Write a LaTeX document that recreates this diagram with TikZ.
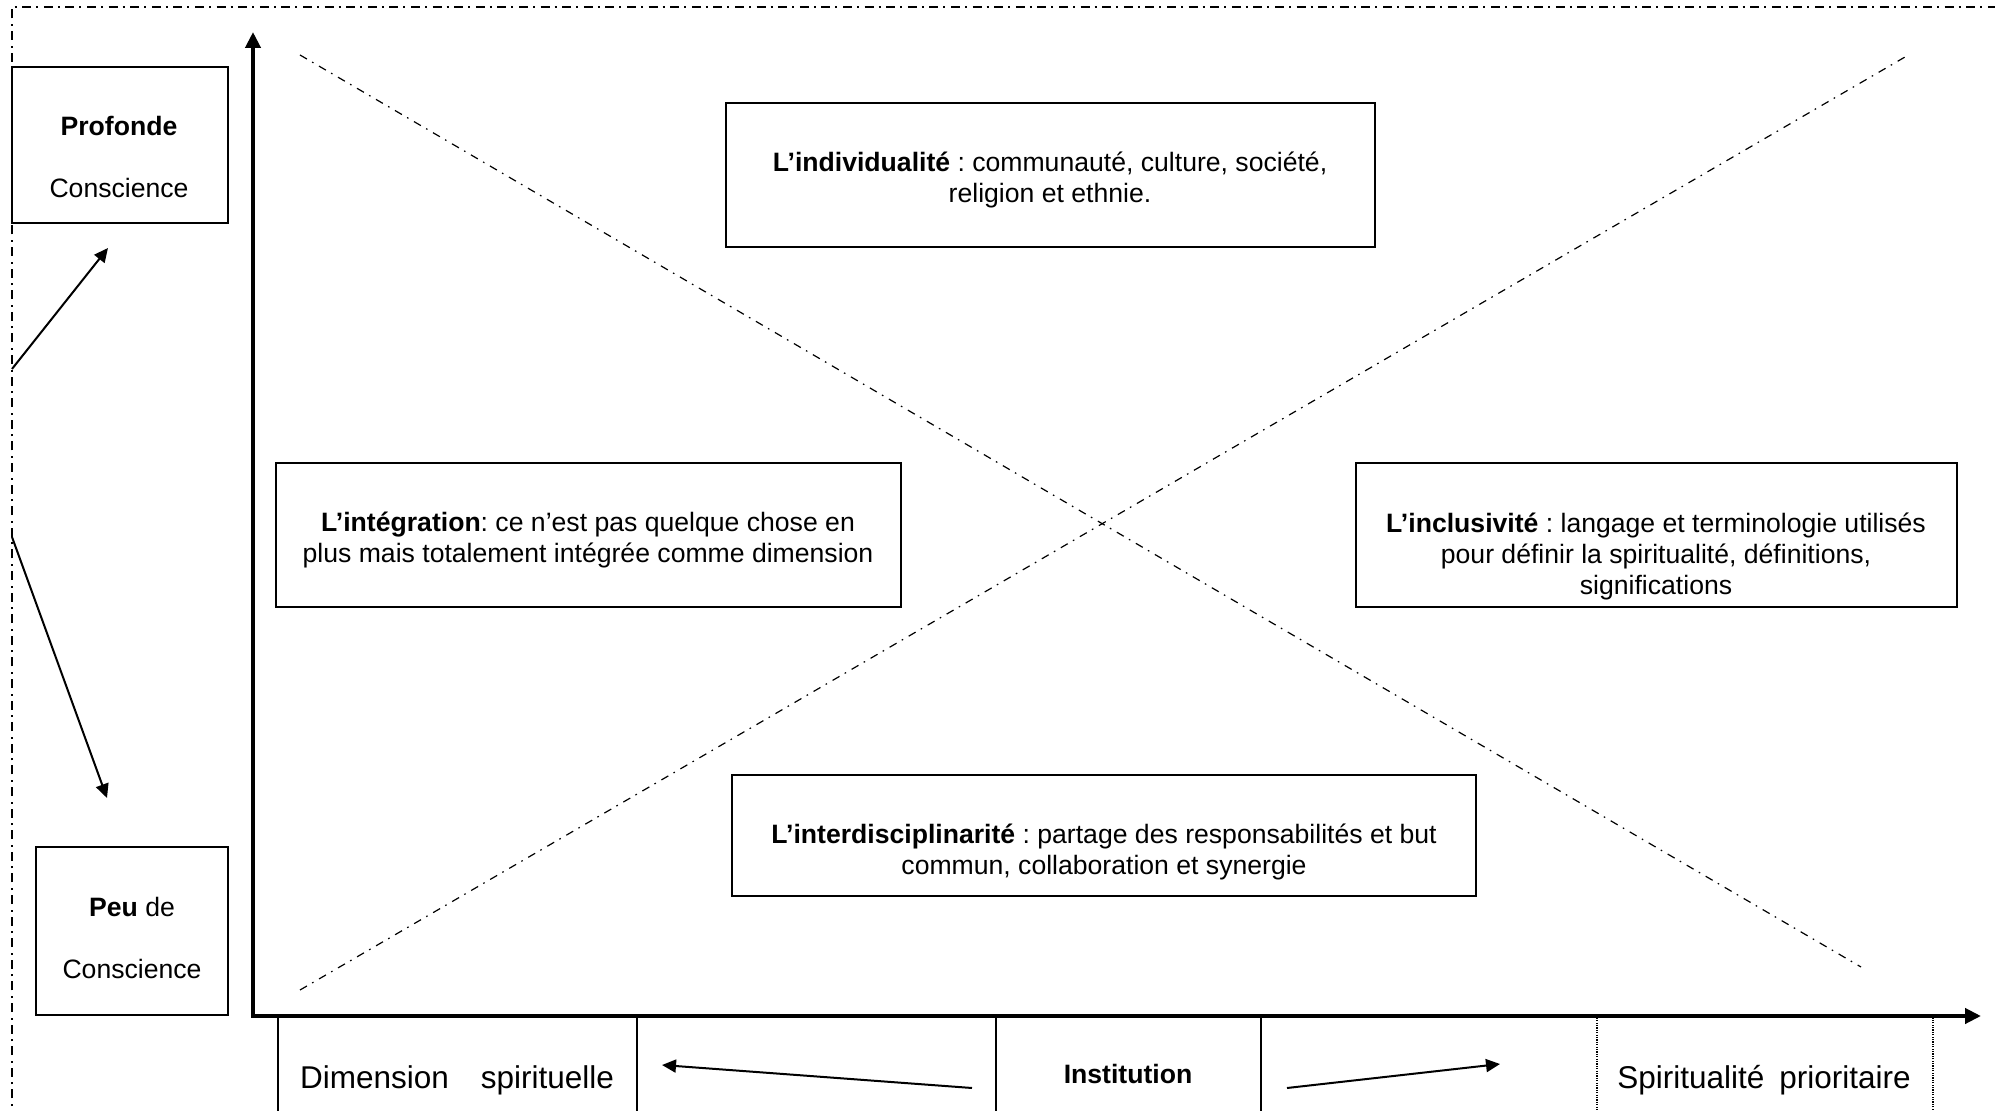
\documentclass[tikz,border=0pt]{standalone}
\usepackage{fontspec}
\setmainfont{Liberation Sans}
\usetikzlibrary{arrows.meta}
\frenchspacing
\begin{document}
\begin{tikzpicture}[x=0.5pt,y=-0.5pt,
  box/.style={draw,line width=1pt,inner sep=0pt,outer sep=0pt},
  cell/.style={draw,line width=0.8pt,inner sep=0pt,outer sep=0pt,minimum height=80pt},
  txt/.style={font=\fontsize{13.3}{15.5}\selectfont,align=center,inner sep=0pt},
  big/.style={font=\fontsize{15.75}{18}\selectfont,inner sep=0pt},
  framestyle/.style={line width=0.8pt,dash pattern=on 4.5pt off 2.5pt on 1pt off 2.8pt},
  diag/.style={line width=0.6pt,dash pattern=on 4pt off 3pt on 0.8pt off 3.2pt},
  axisstyle/.style={line width=2pt,line join=miter,{Triangle[length=8pt,width=7.5pt]}-{Triangle[length=8pt,width=7.5pt]}},
  arr/.style={line width=1pt,-{Triangle[length=7pt,width=6.5pt]}}]
\useasboundingbox (0,0) rectangle (1995,1111);
\clip (0,0) rectangle (1995,1111);

% outer frame
\coordinate (fbl) at (12,1120);
\coordinate (ftl) at (12,7);
\coordinate (ftr) at (2000,7);
\draw[framestyle] (fbl) -- (ftl) -- (ftr);

% left boxes
\node[box,minimum width=108pt,minimum height=78pt] (prof) at (120,145) {};
\node[txt] (proftxt) at (119,157) {\textbf{Profonde}\\[15.5pt]Conscience};
\node[box,minimum width=96pt,minimum height=84pt] (peu) at (132,931) {};
\node[txt] (peutxt) at (132,938) {\textbf{Peu} de\\[15.5pt]Conscience};

% left arrows
\coordinate (a1s) at (12,369);
\coordinate (a1e) at (108,248);
\coordinate (a2s) at (12,537);
\coordinate (a2e) at (107,798);
\draw[arr] (a1s) -- (a1e);
\draw[arr] (a2s) -- (a2e);

% diagonals
\coordinate (d1a) at (300,55);
\coordinate (d1b) at (1861,967);
\coordinate (d2a) at (300,990);
\coordinate (d2b) at (1905,57);
\draw[diag] (d1a) -- (d1b);
\draw[diag] (d2a) -- (d2b);

% quadrant boxes
\node[box,fill=white,minimum width=324.5pt,minimum height=72pt] (indiv) at (1050.5,175) {};
\node[txt] (indivtxt) at (1050,180) {\textbf{L’individualité} : communauté, culture, société,\\religion et ethnie.};
\node[box,fill=white,minimum width=312.5pt,minimum height=72pt] (integ) at (588.5,535) {};
\node[txt] (integtxt) at (588,540) {\textbf{L’intégration}: ce n’est pas quelque chose en\\plus mais totalement intégrée comme dimension};
\node[box,fill=white,minimum width=300.5pt,minimum height=72pt] (inclus) at (1656.5,535) {};
\node[txt] (inclustxt) at (1656,556) {\textbf{L’inclusivité} : langage et terminologie utilisés\\pour définir la spiritualité, définitions,\\significations};
\node[box,fill=white,minimum width=372pt,minimum height=60.5pt] (inter) at (1104,835.5) {};
\node[txt] (intertxt) at (1104,851.5) {\textbf{L’interdisciplinarité} : partage des responsabilités et but\\commun, collaboration et synergie};

% bottom cells
\node[cell,minimum width=179.5pt] (dimcell) at (457.5,1096) {};
\node[cell,minimum width=132.5pt] (instcell) at (1128.5,1096) {};
\node[draw,line width=0.6pt,dash pattern=on 0.6pt off 0.6pt,inner sep=0pt,outer sep=0pt,minimum width=168pt,minimum height=80pt] (spircell) at (1765,1097) {};
\node[big] (dimtxt) at (457,1080) {Dimension\hspace{16pt}spirituelle};
\node[txt] (insttxt) at (1128,1074) {\textbf{Institution}};
\node[big] (spirtxt) at (1764,1080) {Spiritualité\hspace{7.5pt}prioritaire};

% bottom arrows
\coordinate (b1s) at (972,1088);
\coordinate (b1e) at (662,1065);
\coordinate (b2s) at (1287,1088);
\coordinate (b2e) at (1500,1064);
\draw[arr] (b1s) -- (b1e);
\draw[arr] (b2s) -- (b2e);

% axes
\coordinate (O) at (253,1016);
\coordinate (ytip) at (253,32);
\coordinate (xtip) at (1981,1016);
\draw[axisstyle] (ytip) -- (O) -- (xtip);
\end{tikzpicture}
\end{document}
